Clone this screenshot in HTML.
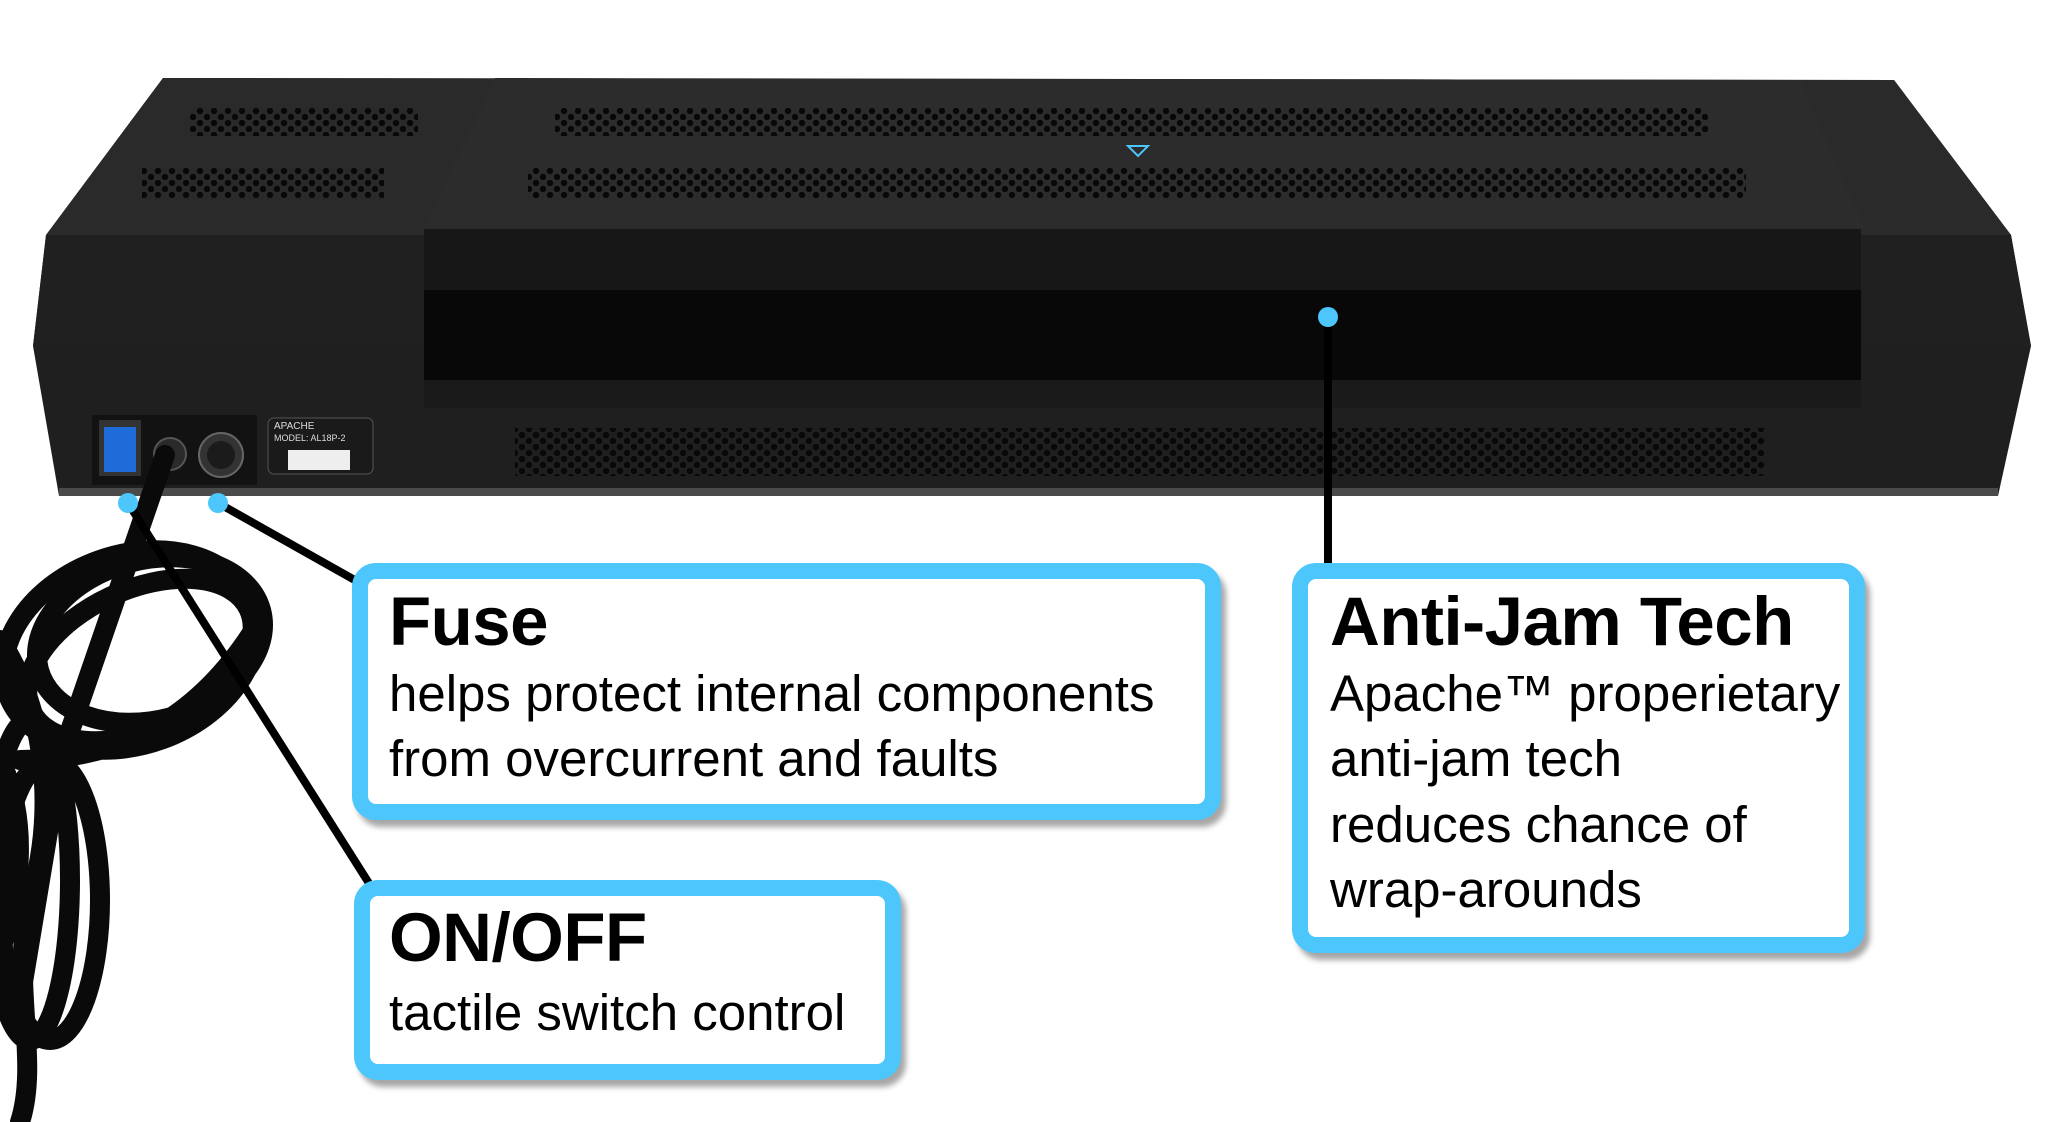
<!DOCTYPE html>
<html><head><meta charset="utf-8"><style>
html,body{margin:0;padding:0;background:#fff;width:2048px;height:1122px;overflow:hidden;position:relative}
.box{position:absolute;box-sizing:border-box;border:16px solid #4cc6fb;border-radius:24px;background:#fff;box-shadow:5px 7px 6px rgba(0,0,0,0.35)}
.t{position:absolute;font-family:"Liberation Sans",sans-serif;color:#000;white-space:nowrap}
.h{font-weight:bold;font-size:69px;letter-spacing:-0.5px}
.b{font-size:51px;letter-spacing:0px}
</style></head><body>
<svg width="2048" height="1122" style="position:absolute;left:0;top:0">
<defs>
<pattern id="hx" width="14" height="12" patternUnits="userSpaceOnUse">
<circle cx="4" cy="3" r="3.2" fill="#080808"/><circle cx="11" cy="9" r="3.2" fill="#080808"/>
</pattern>
</defs>
<polygon points="163,78 1894,80 2011,235 2031,346 1998,496 59,496 33,346 46,235" fill="#1f1f1f"/>
<polygon points="163,78 1894,80 2011,235 46,235" fill="#2a2a2a"/>
<polygon points="46,235 2011,235 2031,346 33,346" fill="#202020"/>
<rect x="59" y="488" width="1939" height="8" fill="#4a4a4a"/>
<polygon points="495,78 1800,80 1865,229 424,229" fill="#2c2c2c"/>
<polygon points="424,229 1861,229 1861,405 424,405" fill="#171717"/>
<rect x="424" y="290" width="1437" height="90" fill="#080808"/>
<rect x="424" y="380" width="1437" height="28" fill="#1a1a1a"/>
<rect x="190" y="108" width="228" height="28" fill="url(#hx)"/>
<rect x="142" y="168" width="242" height="30" fill="url(#hx)"/>
<rect x="555" y="108" width="1153" height="28" fill="url(#hx)"/>
<rect x="528" y="168" width="1218" height="30" fill="url(#hx)"/>
<rect x="515" y="428" width="1250" height="48" fill="url(#hx)"/>
<polygon points="1128,146 1148,146 1138,156" fill="none" stroke="#4cc6fb" stroke-width="2"/>
<rect x="92" y="415" width="165" height="70" fill="#121212"/>
<rect x="99" y="420" width="42" height="56" fill="#333"/>
<rect x="104" y="427" width="32" height="45" fill="#1e6ad8"/>
<circle cx="170" cy="454" r="16" fill="#2a2a2a" stroke="#555" stroke-width="2"/>
<circle cx="221" cy="455" r="22" fill="#333" stroke="#666" stroke-width="2"/>
<circle cx="221" cy="455" r="14" fill="#1b1b1b"/>
<rect x="268" y="418" width="105" height="56" rx="6" fill="#1a1a1a" stroke="#555"/>
<text x="274" y="429" font-family="Liberation Sans" font-size="10" fill="#ddd">APACHE</text>
<text x="274" y="441" font-family="Liberation Sans" font-size="9" fill="#ddd">MODEL: AL18P-2</text>
<rect x="288" y="450" width="62" height="20" fill="#eee"/>
<g fill="none" stroke="#0a0a0a" stroke-width="20" stroke-linecap="round">
<ellipse cx="150" cy="640" rx="115" ry="80" transform="rotate(-15 150 640)"/>
<ellipse cx="130" cy="650" rx="130" ry="95" transform="rotate(-20 130 650)"/>
<ellipse cx="140" cy="660" rx="120" ry="70" transform="rotate(-25 140 660)"/>
<path d="M165,455 L60,760 L20,1000"/>
<path d="M0,640 C40,700 60,800 30,900 C10,980 40,1060 20,1122"/>
<path d="M0,760 C30,820 20,900 0,950"/>
<path d="M260,620 C200,720 120,760 20,760"/>
<ellipse cx="50" cy="900" rx="50" ry="140"/>
<ellipse cx="30" cy="880" rx="40" ry="160"/>
</g>
<g stroke="#000" stroke-width="8">
<line x1="218" y1="503" x2="360" y2="583"/>
<line x1="128" y1="503" x2="372" y2="888"/>
<line x1="1328" y1="317" x2="1328" y2="566"/>
</g>
<circle cx="128" cy="503" r="10" fill="#4cc6fb"/>
<circle cx="218" cy="503" r="10" fill="#4cc6fb"/>
<circle cx="1328" cy="317" r="10" fill="#4cc6fb"/>
</svg>

<div class="box" style="left:352px;top:563px;width:869px;height:257px"></div>
<div class="box" style="left:354px;top:880px;width:547px;height:200px"></div>
<div class="box" style="left:1292px;top:563px;width:573px;height:390px"></div>

<div class="t h" style="left:389px;top:582px">Fuse</div>
<div class="t b" style="left:389px;top:664px">helps protect internal components</div>
<div class="t b" style="left:389px;top:729px">from overcurrent and faults</div>

<div class="t h" style="left:389px;top:898px">ON/OFF</div>
<div class="t b" style="left:389px;top:983px">tactile switch control</div>

<div class="t h" style="left:1330px;top:582px">Anti-Jam Tech</div>
<div class="t b" style="left:1330px;top:664px">Apache™ properietary</div>
<div class="t b" style="left:1330px;top:729px">anti-jam tech</div>
<div class="t b" style="left:1330px;top:795px">reduces chance of</div>
<div class="t b" style="left:1330px;top:860px">wrap-arounds</div>
</body></html>
